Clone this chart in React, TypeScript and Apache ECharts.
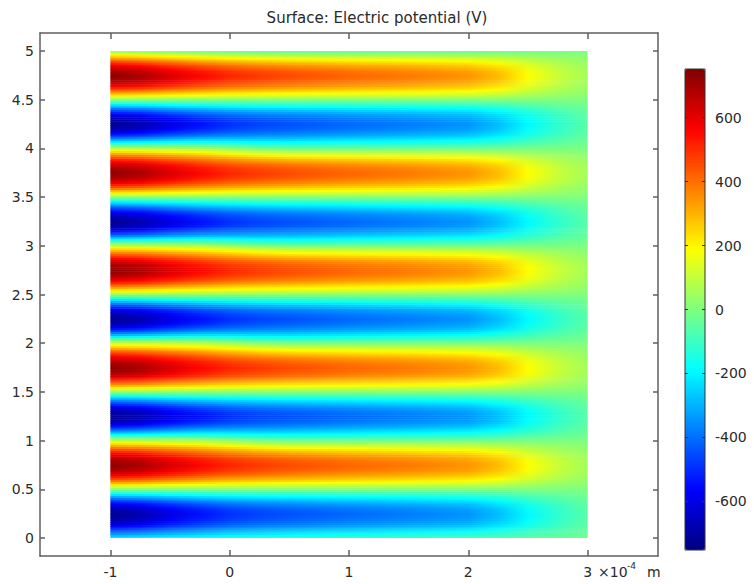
import React, { useEffect, useRef } from 'react';
import * as echarts from 'echarts';

// Sample stations along the strip (x, ×10⁻⁴ m)
const stationsX = [-1, -0.75, -0.5, -0.25, 0, 0.25, 0.5, 1, 1.5, 2, 2.25, 2.5, 2.75, 3];
// Potential (V) on the centre line of the positive bands, per station
const crestV = [730, 690, 620, 560, 510, 480, 455, 415, 385, 345, 290, 190, 110, 55];
// Potential (V) on the centre line of the negative bands, per station
const troughV = [-725, -680, -605, -545, -495, -465, -445, -410, -380, -345, -285, -195, -120, -60];
// Potential (V) on the top boundary (y = 5), per station
const topEdgeV = [40, 20, 0, -20, -35, -45, -50, -50, -45, -40, -30, -20, -10, 0];
// Potential (V) on the bottom boundary (y = 0), per station
const bottomEdgeV = [-190, -175, -160, -145, -125, -115, -105, -90, -75, -60, -50, -40, -30, -20];
// Upward offset of the zero line above each positive band, per station
const zeroLineShift = [0.03, 0.03, 0.03, 0.028, 0.018, 0.006, 0, 0, 0, 0, 0, 0, 0, 0];
// Band centre lines along y
const crestY = [0.75, 1.75, 2.75, 3.75, 4.75];
const troughY = [0.25, 1.25, 2.25, 3.25, 4.25];
// Transverse band profile: share of the centre-line value vs. distance from the zero line
const profileD = [0, 0.2, 0.4, 0.6, 0.8, 1];
const profileF = [0, 0.31, 0.59, 0.81, 0.95, 1];

// Axis ticks
const xTicks = [-1, 0, 1, 2, 3];
const yTicks = [0, 0.5, 1, 1.5, 2, 2.5, 3, 3.5, 4, 4.5, 5];
const barTicks = [-600, -400, -200, 0, 200, 400, 600];

const X_MIN = -1.59;
const X_MAX = 3.59;
const Y_MIN = -0.185;
const Y_MAX = 5.185;
const V_MIN = -752;
const V_MAX = 752;
const ROW_STEP = 0.02;

const jetColors = ['#00007f', '#0000ff', '#007fff', '#00ffff', '#7fff7f', '#ffff00', '#ff7f00', '#ff0000', '#7f0000'];
const FONT = 'DejaVu Sans';
const INK = '#2a2a2a';
const FRAME = '#5f5f5f';

const jetRgb = jetColors.map((h) => [
  parseInt(h.slice(1, 3), 16),
  parseInt(h.slice(3, 5), 16),
  parseInt(h.slice(5, 7), 16),
]);

function jet(v: number): string {
  let t = (v - V_MIN) / (V_MAX - V_MIN);
  t = Math.max(0, Math.min(1, t));
  const s = t * (jetRgb.length - 1);
  const i = Math.min(jetRgb.length - 2, Math.floor(s));
  const f = s - i;
  const a = jetRgb[i];
  const b = jetRgb[i + 1];
  const c = [0, 1, 2].map((k) => Math.round(a[k] + (b[k] - a[k]) * f));
  return `rgb(${c[0]},${c[1]},${c[2]})`;
}

function profile(d: number): number {
  for (let k = 1; k < profileD.length; k++) {
    if (d <= profileD[k]) {
      const f = (d - profileD[k - 1]) / (profileD[k] - profileD[k - 1]);
      return profileF[k - 1] + (profileF[k] - profileF[k - 1]) * f;
    }
  }
  return 1;
}

// Nodes along y for one station: boundaries, zero lines and band centres
type Node = { y: number; v: number; peak: boolean };
function stationNodes(s: number): Node[] {
  const list: Node[] = [
    { y: 0, v: bottomEdgeV[s], peak: false },
    { y: 5, v: topEdgeV[s], peak: false },
  ];
  crestY.forEach((cy) => list.push({ y: cy, v: crestV[s], peak: true }));
  troughY.forEach((ty) => list.push({ y: ty, v: troughV[s], peak: true }));
  crestY.forEach((cy, k) => {
    list.push({ y: cy - 0.25, v: 0, peak: false });
    if (k < crestY.length - 1) list.push({ y: cy + 0.25 + zeroLineShift[s], v: 0, peak: false });
  });
  return list.sort((a, b) => a.y - b.y);
}
const nodesPerStation = stationsX.map((_, s) => stationNodes(s));

function valueAt(s: number, y: number): number {
  const list = nodesPerStation[s];
  let k = 1;
  while (k < list.length - 1 && list[k].y < y) k++;
  const a = list[k - 1];
  const b = list[k];
  const peakNode = a.peak ? a : b;
  const baseNode = a.peak ? b : a;
  const d = Math.abs(y - baseNode.y) / Math.abs(peakNode.y - baseNode.y);
  const f = profile(Math.max(0, Math.min(1, d)));
  return baseNode.v + (peakNode.v - baseNode.v) * f;
}

// One horizontal strip per row: [yLow, yHigh, value at each station]
const fieldRows: number[][] = [];
for (let r = 0; r < Math.round(5 / ROW_STEP); r++) {
  const lo = r * ROW_STEP;
  const hi = lo + ROW_STEP;
  const mid = lo + ROW_STEP / 2;
  fieldRows.push([lo, hi, ...stationsX.map((_, s) => valueAt(s, mid))]);
}

const frameLine = { color: FRAME, width: 1.5 };
const labelStyle = { fontFamily: FONT, fontSize: 14, color: INK };

export default function App() {
  const ref = useRef<HTMLDivElement>(null);

  useEffect(() => {
    if (!ref.current) return;
    const chart = echarts.init(ref.current, undefined, { renderer: 'svg' });
    const x0 = stationsX[0];
    const x1 = stationsX[stationsX.length - 1];

    const frameAxis = (ticks: number[], len: number) => ({
      axisLine: { show: true, onZero: false, lineStyle: frameLine },
      axisTick: { show: true, inside: true, length: len, customValues: ticks, lineStyle: frameLine },
      splitLine: { show: false },
    });

    chart.setOption({
      animation: false,
      backgroundColor: '#ffffff',
      title: {
        text: 'Surface: Electric potential (V)',
        left: 'center',
        top: 5,
        textStyle: { fontFamily: FONT, fontSize: 15, fontWeight: 'normal', color: INK },
      },
      grid: [
        { left: 40, top: 33, width: 618, height: 523 },
        { left: 685, top: 69, width: 20, height: 481 },
      ],
      xAxis: [
        {
          gridIndex: 0,
          type: 'value',
          position: 'bottom',
          min: X_MIN,
          max: X_MAX,
          ...frameAxis(xTicks, 6),
          axisLabel: { ...labelStyle, margin: 9, customValues: xTicks, formatter: (v: number) => String(v) },
        },
        {
          gridIndex: 0,
          type: 'value',
          position: 'top',
          min: X_MIN,
          max: X_MAX,
          ...frameAxis(xTicks, 6),
          axisLabel: { show: false },
        },
        { gridIndex: 1, type: 'value', min: 0, max: 1, show: false },
      ],
      yAxis: [
        {
          gridIndex: 0,
          type: 'value',
          position: 'left',
          min: Y_MIN,
          max: Y_MAX,
          ...frameAxis(yTicks, 5),
          axisLabel: { ...labelStyle, margin: 6, customValues: yTicks, formatter: (v: number) => String(v) },
        },
        {
          gridIndex: 0,
          type: 'value',
          position: 'right',
          min: Y_MIN,
          max: Y_MAX,
          ...frameAxis(yTicks, 5),
          axisLabel: { show: false },
        },
        {
          gridIndex: 1,
          type: 'value',
          position: 'left',
          min: V_MIN,
          max: V_MAX,
          z: 10,
          axisLine: { show: false, onZero: false },
          axisTick: { show: true, inside: true, length: 3, customValues: barTicks, lineStyle: { color: '#333', width: 1 } },
          axisLabel: { show: false },
          splitLine: { show: false },
        },
        {
          gridIndex: 1,
          type: 'value',
          position: 'right',
          min: V_MIN,
          max: V_MAX,
          z: 10,
          axisLine: { show: false, onZero: false },
          axisTick: { show: true, inside: true, length: 3, customValues: barTicks, lineStyle: { color: '#333', width: 1 } },
          axisLabel: { ...labelStyle, margin: 10, customValues: barTicks, formatter: (v: number) => String(v) },
          splitLine: { show: false },
        },
      ],
      visualMap: {
        type: 'continuous',
        min: V_MIN,
        max: V_MAX,
        seriesIndex: 0,
        dimension: 2,
        calculable: false,
        orient: 'vertical',
        left: 685,
        top: 69,
        padding: 0,
        itemWidth: 20,
        itemHeight: 481,
        inRange: { color: jetColors },
      },
      graphic: [
        {
          type: 'rect',
          z: 100,
          silent: true,
          shape: { x: 685, y: 69, width: 20, height: 481 },
          style: { fill: 'none', stroke: '#333', lineWidth: 1 },
        },
        {
          type: 'text',
          z: 100,
          x: 598,
          y: 572,
          style: { text: '×10', fontFamily: FONT, fontSize: 14, fill: INK, verticalAlign: 'middle' },
        },
        {
          type: 'text',
          z: 100,
          x: 627,
          y: 566,
          style: { text: '-4', fontFamily: FONT, fontSize: 9, fill: INK, verticalAlign: 'middle' },
        },
        {
          type: 'text',
          z: 100,
          x: 647,
          y: 572,
          style: { text: 'm', fontFamily: FONT, fontSize: 14, fill: INK, verticalAlign: 'middle' },
        },
      ],
      series: [
        {
          type: 'custom',
          xAxisIndex: 0,
          yAxisIndex: 0,
          silent: true,
          clip: true,
          data: fieldRows,
          encode: { y: [0, 1] },
          renderItem: (params: any, api: any) => {
            const row = fieldRows[params.dataIndex];
            const tl = api.coord([x0, row[1]]);
            const br = api.coord([x1, row[0]]);
            const stops = stationsX.map((sx, k) => ({
              offset: (sx - x0) / (x1 - x0),
              color: jet(row[2 + k]),
            }));
            const overlap = params.dataIndex === 0 ? 0 : 0.6;
            return {
              type: 'rect',
              shape: { x: tl[0], y: tl[1], width: br[0] - tl[0], height: br[1] - tl[1] + overlap },
              style: { fill: new echarts.graphic.LinearGradient(0, 0, 1, 0, stops) },
            };
          },
        },
      ],
    });

    return () => chart.dispose();
  }, []);

  return (
    <div
      ref={ref}
      style={{ position: 'fixed', left: 0, top: 0, width: 754, height: 584, background: '#fff' }}
    />
  );
}
